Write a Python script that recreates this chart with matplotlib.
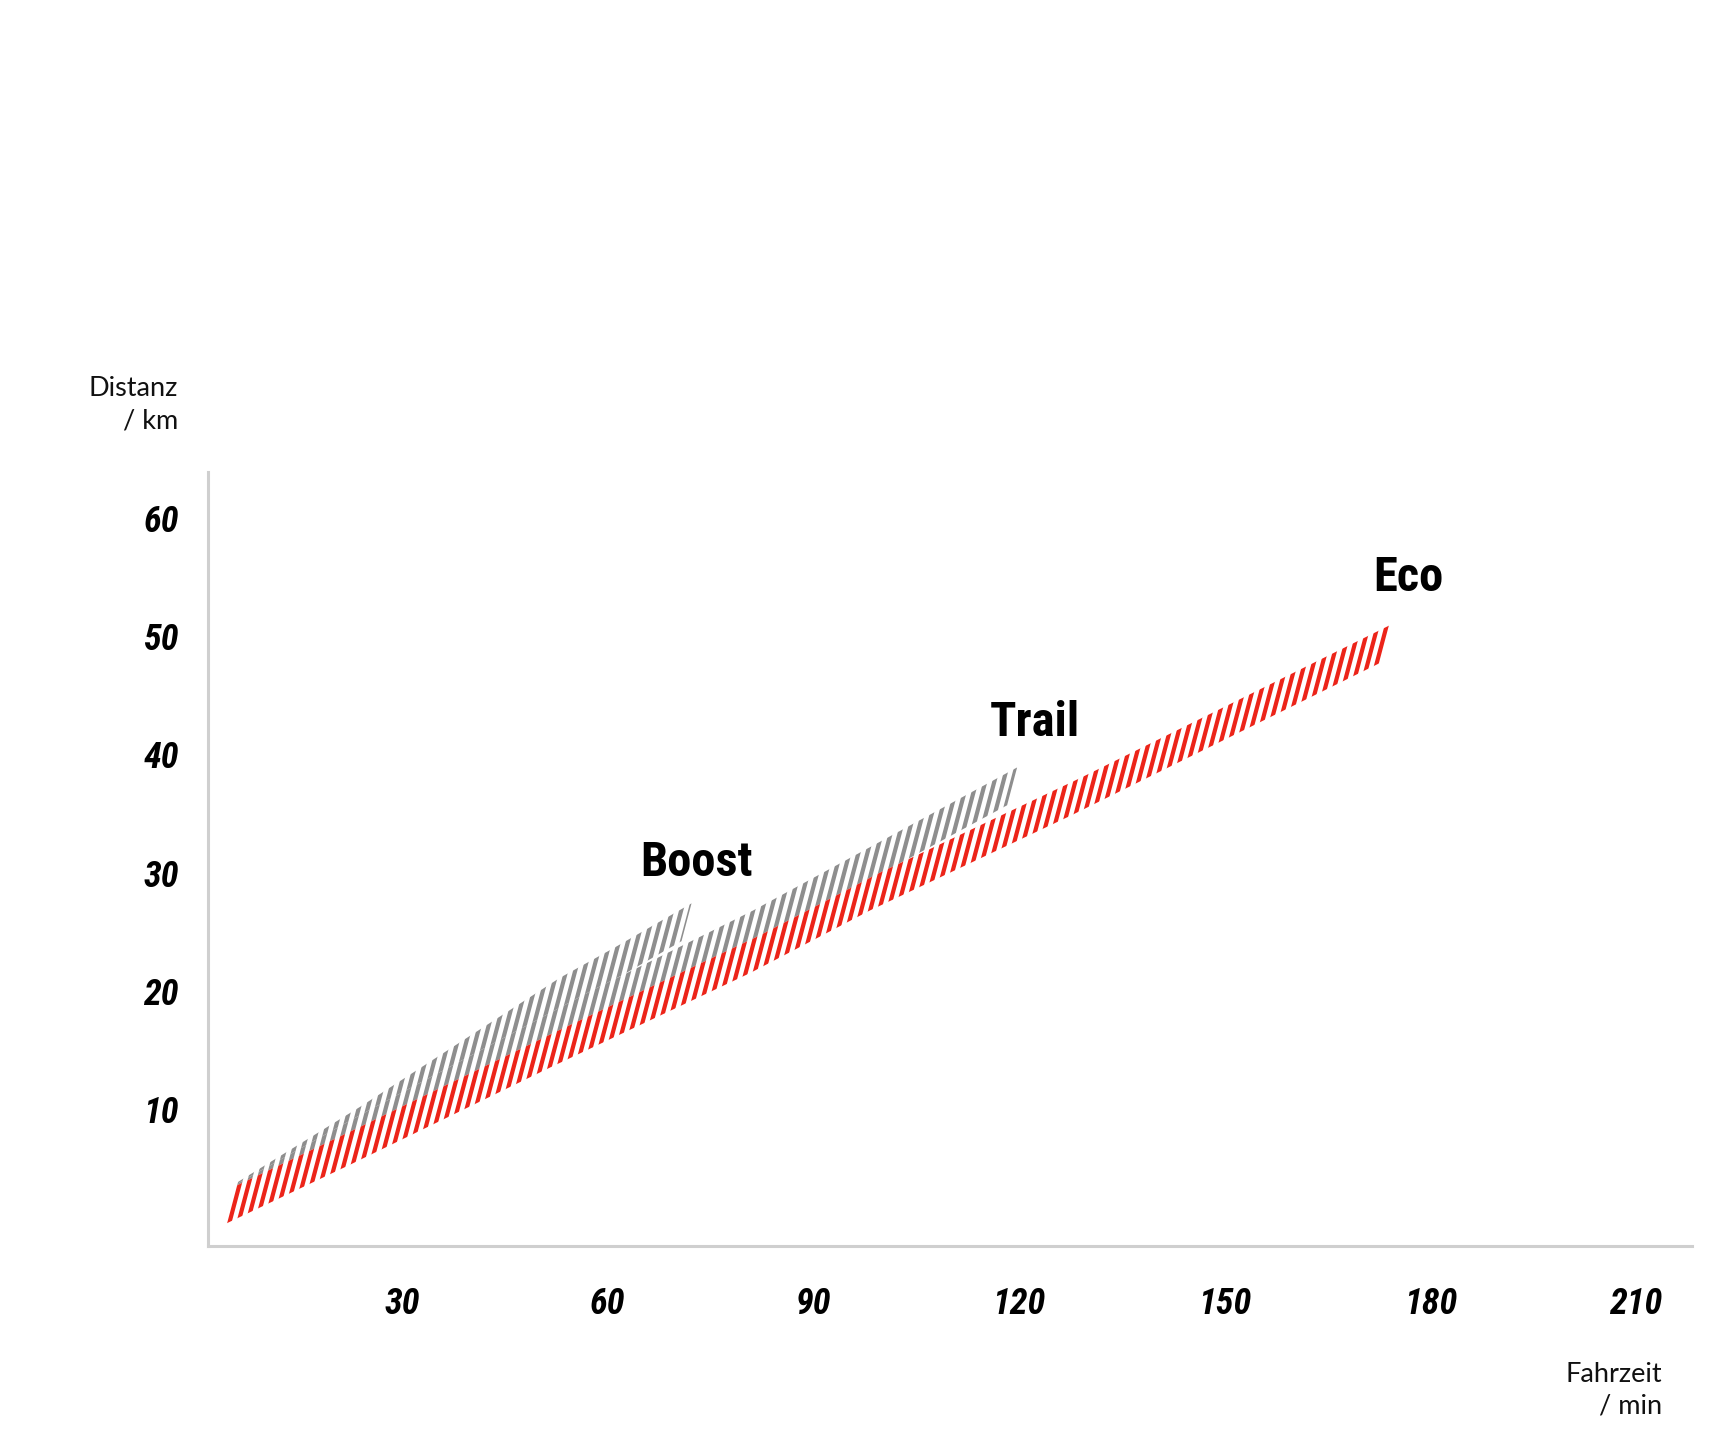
import numpy as np
import matplotlib.pyplot as plt
from matplotlib import font_manager as fm
from matplotlib.patches import Polygon
from matplotlib.collections import LineCollection

# centre line of each band (Fahrzeit in min, Distanz in km)
eco_time = [4.7, 23.2, 52.3, 81.5, 99.0, 128.2, 173.6]
eco_dist = [1.8, 6.9, 15.1, 23.1, 28.4, 36.4, 49.4]

trail_time = [4.7, 23.2, 57.2, 80.5, 119.0]
trail_dist = [1.9, 7.9, 18.5, 25.2, 37.3]

boost_time = [4.7, 23.2, 52.3, 60.1, 71.5]
boost_dist = [2.0, 8.6, 19.5, 22.0, 25.8]

modes = ["Boost", "Trail", "Eco"]
mode_colors = {"Boost": "#8e8e8e", "Trail": "#8e8e8e", "Eco": "#ec2419"}
label_pos = {"Boost": (73.0, 30.8), "Trail": (122.3, 42.7), "Eco": (176.8, 54.9)}

x_ticks = [30, 60, 90, 120, 150, 180, 210]
y_ticks = [10, 20, 30, 40, 50, 60]

series = {
    "Boost": (boost_time, boost_dist),
    "Trail": (trail_time, trail_dist),
    "Eco": (eco_time, eco_dist),
}

# stripe geometry (stripes lean right, shared phase for all bands)
slant = 0.457      # min per km along a stripe
period = 1.313     # min between stripes
half_h = 1.6       # half band height along stripe direction, km


def pick_narrow():
    # find a condensed family that has a real bold face
    entries = fm.fontManager.ttflist
    names = {f.name for f in entries}
    for name in ["Roboto Condensed", "DejaVu Sans Condensed", "Liberation Sans Narrow"]:
        if name in names:
            return [name, "DejaVu Sans"]
    for f in entries:
        if f.name == "DejaVu Sans" and f.stretch == "condensed":
            return ["DejaVu Sans"]
    return ["Roboto", "DejaVu Sans"]


narrow = pick_narrow()

fig = plt.figure(figsize=(17.14, 14.4), dpi=100)
ax = fig.add_axes([0.1214, 0.1347, 0.8658, 0.5375])
ax.set_xlim(1.7, 218.2)
ax.set_ylim(-1.6, 63.9)

starts = np.arange(-40, 240, period)
segs = [[(x0 - 5 * slant, -5), (x0 + 70 * slant, 70)] for x0 in starts]

z = 2
for mode in modes:
    t, d = series[mode]
    t = np.asarray(t)
    d = np.asarray(d)
    top = np.column_stack([t + slant * half_h, d + half_h])
    bottom = np.column_stack([t - slant * half_h, d - half_h])
    verts = np.vstack([top, bottom[::-1]])
    band = Polygon(verts, closed=True, facecolor="white", edgecolor="none", zorder=z)
    ax.add_patch(band)
    lc = LineCollection(segs, colors=mode_colors[mode], linewidths=3.0,
                        capstyle="butt", zorder=z + 0.5)
    ax.add_collection(lc)
    lc.set_clip_path(band)
    lx, ly = label_pos[mode]
    ax.text(lx, ly, mode, ha="center", va="center", fontsize=35,
            fontweight="bold", fontstretch="condensed", family=narrow,
            color="black", zorder=10)
    z += 1

for side in ["top", "right"]:
    ax.spines[side].set_visible(False)
for side in ["left", "bottom"]:
    ax.spines[side].set_color("#cfcfcf")
    ax.spines[side].set_linewidth(2.2)

tick_font = dict(family=narrow, style="italic", weight="bold", stretch="condensed",
                 size=26)
ax.set_xticks(x_ticks)
ax.set_xticklabels([str(v) for v in x_ticks], **tick_font)
ax.set_yticks(y_ticks)
ax.set_yticklabels([str(v) for v in y_ticks], **tick_font)
ax.tick_params(axis="x", length=0, pad=29)
ax.tick_params(axis="y", length=0, pad=21)

title_font = dict(family=["Lato", "DejaVu Sans"], size=19.5, color="#111111",
                  linespacing=1.35)
fig.text(178 / 1714, 1 - 405 / 1440, "Distanz\n/ km", ha="right", va="center",
         multialignment="right", **title_font)
fig.text(1662 / 1714, 1 - 1390 / 1440, "Fahrzeit\n/ min", ha="right", va="center",
         multialignment="right", **title_font)

fig.savefig("out.png", dpi=100, facecolor="white")
